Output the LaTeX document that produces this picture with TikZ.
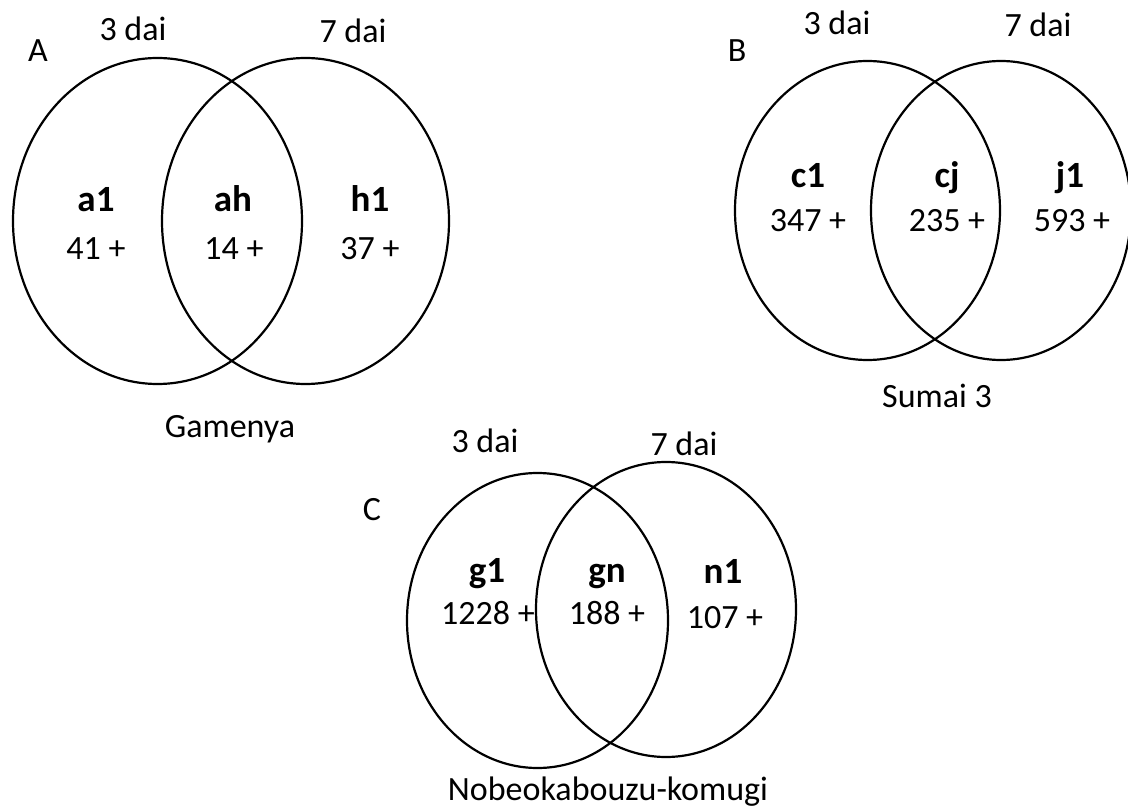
\documentclass[tikz,border=0pt]{standalone}
\usepackage{fontspec}
\setmainfont{Carlito}
\begin{document}
\begin{tikzpicture}[x=1pt,y=-1pt,
  setring/.style={line width=2.2pt,draw=black},
  lab/.style={inner sep=0pt,anchor=base,font=\fontsize{34}{40}\selectfont},
  region/.style={lab,font=\fontsize{37}{44}\selectfont\bfseries},
  count/.style={lab}]
\useasboundingbox (0,0) rectangle (1128,810);
\begin{scope}
\clip (0,0) rectangle (1128,810);

% ---- A: Gamenya ----
\draw[setring] (157.5,221) ellipse [x radius=144.5, y radius=163];
\draw[setring] (305.5,221) ellipse [x radius=143.5, y radius=163];
\node[lab] (Alet) at (38,62) {A};
\node[lab] (A3) at (133,41) {3 dai};
\node[lab] (A7) at (353,43) {7 dai};
\node[region] (a1) at (96,212) {a1};
\node[count] (a1n) at (96,260) {41 +};
\node[region] (ah) at (233,212) {ah};
\node[count] (ahn) at (234,260) {14 +};
\node[region] (h1) at (370,212) {h1};
\node[count] (h1n) at (370,260) {37 +};
\node[lab] (Aname) at (230,438) {Gamenya};

% ---- B: Sumai 3 ----
\draw[setring] (867.5,210.5) ellipse [x radius=132.5, y radius=149.5];
\draw[setring] (1001,210.5) ellipse [x radius=130, y radius=149.5];
\node[lab] (Blet) at (737,62) {B};
\node[lab] (B3) at (837,35) {3 dai};
\node[lab] (B7) at (1038,37) {7 dai};
\node[region] (c1) at (808,188) {c1};
\node[count] (c1n) at (808,232) {347 +};
\node[region] (cj) at (947,188) {cj};
\node[count] (cjn) at (947,232) {235 +};
\node[region] (j1) at (1070,188) {j1};
\node[count] (j1n) at (1072,232) {593 +};
\node[lab] (Bname) at (937,408) {Sumai 3};

% ---- C: Nobeokabouzu-komugi ----
\draw[setring] (537.5,620.5) ellipse [x radius=130.5, y radius=147.5];
\draw[setring] (666,609.5) ellipse [x radius=130, y radius=147.5];
\node[lab] (Clet) at (372,520) {C};
\node[lab] (C3) at (485,453) {3 dai};
\node[lab] (C7) at (684,455) {7 dai};
\node[region] (g1) at (487,582) {g1};
\node[count] (g1n) at (488,624) {1228 +};
\node[region] (gn) at (607,582) {gn};
\node[count] (gnn) at (607,624) {188 +};
\node[region] (n1) at (723,583) {n1};
\node[count] (n1n) at (725,628) {107 +};
\node[lab] (Cname) at (608,800) {Nobeokabouzu-komugi};
\end{scope}
\end{tikzpicture}
\end{document}
